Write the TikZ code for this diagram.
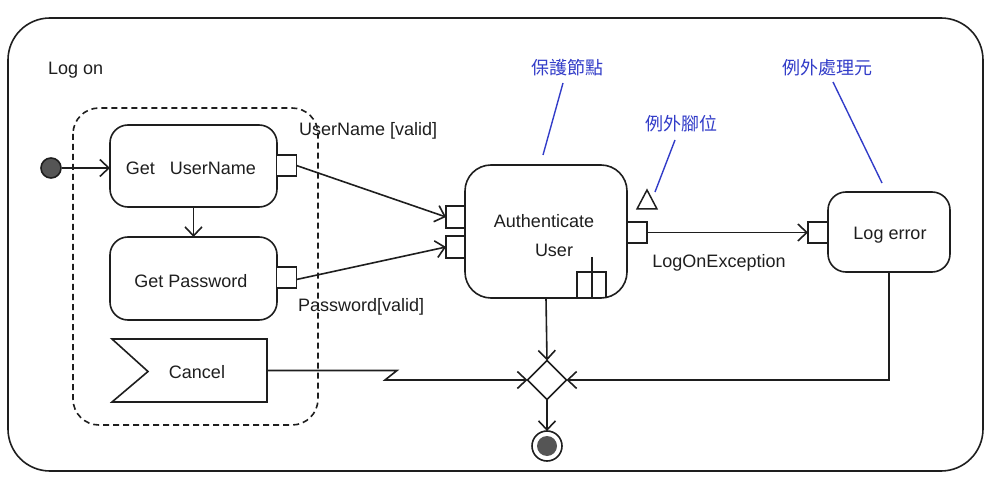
\documentclass[tikz,border=0pt]{standalone}
\usepackage{fontspec}
\setmainfont{Liberation Sans}
\newfontfamily\cjk{Noto Sans CJK TC}
\usetikzlibrary{arrows.meta,shapes.geometric,calc}
\definecolor{ink}{RGB}{30,30,30}
\definecolor{note}{RGB}{50,60,200}
\definecolor{dot}{RGB}{85,85,85}
\tikzset{
  base/.style={line width=1.6pt, draw=ink},
  action/.style={base, rounded corners=18pt, inner sep=0pt, outer sep=0pt},
  pinbox/.style={base, fill=white, minimum width=20pt, minimum height=21pt, inner sep=0pt, outer sep=0pt},
  arr/.style={base, -{Straight Barb[length=9pt,width=17pt]}},
  conn/.style={base},
  lbl/.style={text=ink, inner sep=0pt, font=\fontsize{18}{21}\selectfont},
  cjklbl/.style={text=note, inner sep=0pt, font=\fontsize{18}{21}\selectfont\cjk},
  noteline/.style={draw=note, line width=1.4pt},
}
\begin{document}
\begin{tikzpicture}[x=1pt,y=-1pt]
\useasboundingbox (0,0) rectangle (991,489);
% outer frame
\draw[base, rounded corners=42pt] (8,18) rectangle (983,471);
\node[lbl, anchor=west] (logon) at (48,70) {Log on};
% dashed region
\draw[base, dashed, dash pattern=on 6pt off 4pt, rounded corners=26pt] (73,108) rectangle (318,425);
% initial node
\node[circle, base, fill=dot, minimum size=20pt, inner sep=0pt] (init) at (51,168) {};
% actions
\node[action, minimum width=167pt, minimum height=82pt] (gun) at (193.5,166) {};
\node[lbl] (guntxt) at (191,168) {Get~~~UserName};
\node[pinbox] (gunpin) at (286.5,165.5) {};
\node[action, minimum width=167pt, minimum height=83pt] (gpw) at (193.5,278.5) {};
\node[lbl] (gpwtxt) at (191,281) {Get Password};
\node[pinbox] (gpwpin) at (286.5,277.5) {};
% cancel (accept event)
\node[inner sep=0pt, outer sep=0pt, minimum width=155pt, minimum height=63pt] (cancel) at (189.5,370.5) {};
\draw[base, line join=miter] (cancel.north west) -- (cancel.north east) -- (cancel.south east) -- (cancel.south west) -- ($(cancel.west)+(36,1)$) -- cycle;
\node[lbl] (canceltxt) at (197,372) {Cancel};
% labels
\node[lbl, anchor=west] (unlbl) at (299,131) {UserName [valid]};
\node[lbl, anchor=west] (pwlbl) at (298,307) {Password[valid]};
% authenticate
\node[action, rounded corners=26pt, minimum width=162pt, minimum height=133pt] (auth) at (546,231.5) {};
\node[lbl] (authtxt1) at (544,221) {Authenticate};
\node[lbl] (authtxt2) at (554,250) {User};
\node[pinbox, minimum width=19pt, minimum height=22pt] (authin1) at (455.5,217) {};
\node[pinbox, minimum width=19pt, minimum height=22pt] (authin2) at (455.5,247) {};
\node[pinbox] (authout) at (637,232.5) {};
% rake symbol
\draw[base] (592,257) -- (592,297) (577,297) -- (577,272) -- (606,272) -- (606,297);
% exception triangle
\coordinate (tri) at (647,190);
\draw[base, line width=1.5pt, line join=miter] (637,209) -- (tri) -- (657,209) -- cycle;
\node[lbl] (excl) at (719,263) {LogOnException};
% log error
\node[action, minimum width=122pt, minimum height=80pt] (logerr) at (889,232) {};
\node[lbl] (logerrtxt) at (890,235) {Log error};
\node[pinbox] (logpin) at (818,232.5) {};
% decision / merge
\node[diamond, base, aspect=1, minimum width=39pt, minimum height=39pt, inner sep=0pt, outer sep=0pt] (dia) at (547,380) {};
% final node
\node[circle, base, minimum size=30pt, inner sep=0pt, outer sep=0pt] (fin) at (547,446) {};
\fill[dot] (fin.center) circle (10pt);
% annotations
\node[cjklbl] (n1) at (567,68) {保護節點};
\node[cjklbl] (n2) at (681,124) {例外腳位};
\node[cjklbl] (n3) at (827,68) {例外處理元};
\coordinate (n1end) at (543,155);
\coordinate (n3end) at (882,183);
\coordinate (n2end) at (655,192);
\draw[noteline] (563,83) -- (n1end);
\draw[noteline] (675,140) -- (n2end);
\draw[noteline] (833,82) -- (n3end);
% connectors
\draw[arr] (init.east) -- (init.east -| gun.west);
\draw[arr] (gun.south) -- (gpw.north);
\draw[arr] (gunpin.east) -- (authin1.west);
\draw[arr] ($(gpwpin.east)+(0,2)$) -- (authin2.west);
\draw[arr] (authout.east) -- (logpin.west);
\draw[arr] (auth.south) -- (dia.north);
\draw[arr] (dia.south) -- (fin.north);
\draw[arr] (logerr.south) |- (dia.east);
\coordinate (z1) at (397,370.5);
\coordinate (z2) at (385,380);
\draw[arr, line join=miter] (cancel.east) -- (z1) -- (z2) -- (dia.west);
\end{tikzpicture}
\end{document}
